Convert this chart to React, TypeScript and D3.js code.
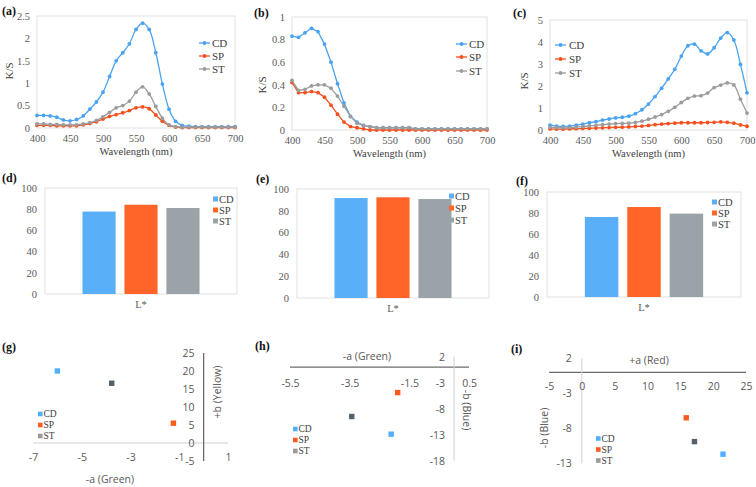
import React, { useRef, useEffect } from 'react';
import * as d3 from 'd3';

const seriesNames = ['CD', 'SP', 'ST'];
const lineColors: Record<string, string> = { CD: '#4aa3f2', SP: '#f4511e', ST: '#9c9c9c' };
const barColors: Record<string, string> = { CD: '#5ab0f8', SP: '#ff6529', ST: '#99a3a8' };
const dotColors: Record<string, string> = { CD: '#4fb0ff', SP: '#ff5a1f', ST: '#56606a' };
const dotLegendColors: Record<string, string> = { CD: '#4fb0ff', SP: '#ff5a1f', ST: '#9a9a9a' };

const wavelengths = [400, 410, 420, 430, 440, 450, 460, 470, 480, 490, 500, 510, 520, 530, 540, 550,
  560, 570, 580, 590, 600, 610, 620, 630, 640, 650, 660, 670, 680, 690, 700];
const wavelengthTicks = [400, 450, 500, 550, 600, 650, 700];

// (a) K/S
const ksA_CD = [0.28, 0.28, 0.27, 0.24, 0.18, 0.16, 0.19, 0.27, 0.42, 0.58, 0.8, 1.15, 1.5, 1.68, 1.88, 2.2,
  2.34, 2.2, 1.68, 0.98, 0.42, 0.15, 0.06, 0.04, 0.03, 0.03, 0.03, 0.03, 0.03, 0.03, 0.03];
const ksA_SP = [0.06, 0.06, 0.06, 0.05, 0.05, 0.05, 0.05, 0.07, 0.1, 0.14, 0.2, 0.26, 0.3, 0.34, 0.39, 0.45,
  0.47, 0.43, 0.29, 0.15, 0.06, 0.02, 0.01, 0.01, 0.01, 0.01, 0.01, 0.01, 0.01, 0.01, 0.01];
const ksA_ST = [0.09, 0.09, 0.08, 0.08, 0.07, 0.07, 0.07, 0.09, 0.12, 0.17, 0.25, 0.35, 0.45, 0.5, 0.6, 0.8,
  0.92, 0.76, 0.48, 0.22, 0.07, 0.03, 0.02, 0.02, 0.02, 0.02, 0.02, 0.02, 0.02, 0.02, 0.02];
const ticksA = [0, 0.5, 1, 1.5, 2, 2.5];

// (b) K/S
const ksB_CD = [0.83, 0.82, 0.86, 0.9, 0.87, 0.76, 0.6, 0.41, 0.24, 0.12, 0.07, 0.04, 0.03, 0.02, 0.02, 0.02,
  0.02, 0.02, 0.02, 0.01, 0.01, 0.01, 0.01, 0.01, 0.01, 0.01, 0.01, 0.01, 0.01, 0.01, 0.01];
const ksB_SP = [0.42, 0.33, 0.33, 0.34, 0.33, 0.29, 0.22, 0.14, 0.07, 0.03, 0.02, 0.01, 0, 0, 0, 0,
  0, 0, 0, 0, 0, 0, 0, 0, 0, 0, 0, 0, 0, 0, 0];
const ksB_ST = [0.44, 0.35, 0.36, 0.39, 0.4, 0.4, 0.37, 0.3, 0.21, 0.12, 0.06, 0.04, 0.03, 0.02, 0.02, 0.02,
  0.02, 0.02, 0.02, 0.01, 0.01, 0.01, 0.01, 0.01, 0.01, 0.01, 0.01, 0.01, 0.01, 0.01, 0.01];
const ticksB = [0, 0.2, 0.4, 0.6, 0.8, 1];

// (c) K/S
const ksC_CD = [0.22, 0.18, 0.16, 0.18, 0.22, 0.27, 0.33, 0.38, 0.45, 0.5, 0.55, 0.58, 0.63, 0.74, 0.92, 1.18,
  1.52, 1.9, 2.32, 2.76, 3.36, 3.83, 3.9, 3.6, 3.46, 3.74, 4.18, 4.43, 4.09, 2.98, 1.69];
const ksC_SP = [0.05, 0.04, 0.04, 0.05, 0.06, 0.07, 0.08, 0.09, 0.1, 0.11, 0.12, 0.13, 0.14, 0.16, 0.18, 0.21,
  0.24, 0.27, 0.29, 0.31, 0.33, 0.33, 0.33, 0.33, 0.34, 0.35, 0.37, 0.35, 0.31, 0.23, 0.17];
const ksC_ST = [0.12, 0.11, 0.1, 0.11, 0.13, 0.16, 0.19, 0.21, 0.24, 0.27, 0.29, 0.3, 0.31, 0.34, 0.4, 0.49,
  0.59, 0.7, 0.85, 1.03, 1.25, 1.44, 1.54, 1.56, 1.68, 1.93, 2.04, 2.14, 2.05, 1.4, 0.77];
const ticksC = [0, 1, 2, 3, 4, 5];

// (d)(e)(f) L* values, order CD, SP, ST
const lightD = [77.8, 84.2, 81.1];
const lightE = [91.7, 92.4, 90.8];
const lightF = [76.2, 85.7, 79.4];
const barTicks = [0, 20, 40, 60, 80, 100];

// (g)(h)(i) a*, b*, order CD, SP, ST
const abG_a = [-6.0, -1.24, -3.77];
const abG_b = [20.0, 5.5, 16.6];
const ticksG_x = [-7, -5, -3, -1, 1];
const ticksG_y = [-5, 0, 5, 10, 15, 20, 25];

const abH_a = [-2.11, -1.89, -3.43];
const abH_b = [-12.9, -4.9, -9.5];
const ticksH_x = [-5.5, -3.5, -1.5, 0.5];
const ticksH_y = [-18, -13, -8, -3, 2];

const abI_a = [21.5, 15.9, 17.15];
const abI_b = [-11.7, -6.5, -9.9];
const ticksI_x = [-5, 0, 5, 10, 15, 20, 25];
const ticksI_y = [-13, -8, -3, 2];

const SERIF = '"Liberation Serif", "Times New Roman", serif';
const SANS = '"Open Sans", "Noto Sans", sans-serif';

type Sel = d3.Selection<SVGSVGElement, unknown, null, undefined>;

const panelLabel = (svg: Sel, text: string, x: number, y: number) => {
  svg.append('text').attr('x', x).attr('y', y).text(text)
    .attr('font-family', SERIF).attr('font-size', 12).attr('font-weight', 'bold').attr('fill', '#111');
};

const styleAxis = (g: d3.Selection<SVGGElement, unknown, null, undefined>, font: string, size: number) => {
  g.select('.domain').remove();
  g.selectAll('text').attr('font-family', font).attr('font-size', size).attr('fill', '#595959');
};

interface SpectrumOpts {
  left: number; right: number; top: number; bottom: number;
  yTicks: number[];
  data: number[][];
  smooth: boolean;
  legendLine: number; legendText: number; legendY: number[];
  label: string; labelX: number; labelY: number;
  ksX: number; ksY: number;
}

const drawSpectrum = (svg: Sel, o: SpectrumOpts) => {
  const x = d3.scaleLinear().domain([400, 700]).range([o.left, o.right]);
  const y = d3.scaleLinear().domain([0, o.yTicks[o.yTicks.length - 1]]).range([o.bottom, o.top]);

  svg.append('rect').attr('x', o.left).attr('y', o.top).attr('width', o.right - o.left)
    .attr('height', o.bottom - o.top).attr('fill', 'none').attr('stroke', '#d9d9d9').attr('stroke-width', 0.8);

  const gx = svg.append('g').attr('transform', `translate(0,${o.bottom})`)
    .call(d3.axisBottom(x).tickValues(wavelengthTicks).tickSize(0).tickPadding(7).tickFormat((d) => String(d)));
  styleAxis(gx, SERIF, 10.5);
  const gy = svg.append('g').attr('transform', `translate(${o.left},0)`)
    .call(d3.axisLeft(y).tickValues(o.yTicks).tickSize(0).tickPadding(7).tickFormat((d) => String(d)));
  styleAxis(gy, SERIF, 10.5);

  svg.append('text').attr('x', (o.left + o.right) / 2).attr('y', o.bottom + 27).attr('text-anchor', 'middle')
    .text('Wavelength  (nm)').attr('font-family', SERIF).attr('font-size', 10.5).attr('fill', '#404040');
  svg.append('text').attr('transform', `translate(${o.ksX},${o.ksY}) rotate(-90)`).attr('text-anchor', 'middle')
    .attr('dy', '0.35em').text('K/S').attr('font-family', SERIF).attr('font-size', 11).attr('fill', '#404040');

  const line = d3.line<number>().x((_, i) => x(wavelengths[i])).y((d) => y(d))
    .curve(o.smooth ? d3.curveCatmullRom.alpha(0.5) : d3.curveLinear);

  seriesNames.forEach((name, si) => {
    const vals = o.data[si];
    svg.append('path').attr('d', line(vals) || '').attr('fill', 'none')
      .attr('stroke', lineColors[name]).attr('stroke-width', 1.3);
    svg.append('g').selectAll('circle').data(vals).enter().append('circle')
      .attr('cx', (_, i) => x(wavelengths[i])).attr('cy', (d) => y(d)).attr('r', 1.9)
      .attr('fill', lineColors[name]);

    const ly = o.legendY[si];
    svg.append('line').attr('x1', o.legendLine).attr('x2', o.legendLine + 11).attr('y1', ly).attr('y2', ly)
      .attr('stroke', lineColors[name]).attr('stroke-width', 1.3);
    svg.append('circle').attr('cx', o.legendLine + 5.5).attr('cy', ly).attr('r', 1.9).attr('fill', lineColors[name]);
    svg.append('text').attr('x', o.legendText).attr('y', ly).attr('dy', '0.35em').text(name)
      .attr('font-family', SERIF).attr('font-size', 11).attr('fill', '#404040');
  });

  panelLabel(svg, o.label, o.labelX, o.labelY);
};

interface BarOpts {
  left: number; right: number; top: number; bottom: number;
  values: number[];
  legendX: number; legendY: number[];
  label: string; labelX: number; labelY: number;
}

const drawBars = (svg: Sel, o: BarOpts) => {
  const x0 = d3.scaleBand<string>().domain(['L*']).range([o.left, o.right]).paddingInner(0).paddingOuter(0.32);
  const x1 = d3.scaleBand<string>().domain(seriesNames).range([0, x0.bandwidth()]).paddingInner(0.21);
  const y = d3.scaleLinear().domain([0, 100]).range([o.bottom, o.top]);

  svg.append('rect').attr('x', o.left).attr('y', o.top).attr('width', o.right - o.left)
    .attr('height', o.bottom - o.top).attr('fill', 'none').attr('stroke', '#d9d9d9').attr('stroke-width', 0.8);

  const gy = svg.append('g').attr('transform', `translate(${o.left},0)`)
    .call(d3.axisLeft(y).tickValues(barTicks).tickSize(0).tickPadding(8).tickFormat((d) => String(d)));
  styleAxis(gy, SERIF, 10.5);
  const gx = svg.append('g').attr('transform', `translate(0,${o.bottom})`)
    .call(d3.axisBottom(x0).tickSize(0).tickPadding(7));
  styleAxis(gx, SERIF, 10.5);

  const base = x0('L*') || 0;
  svg.append('g').selectAll('rect').data(o.values).enter().append('rect')
    .attr('x', (_, i) => base + (x1(seriesNames[i]) || 0))
    .attr('y', (d) => y(d)).attr('width', x1.bandwidth()).attr('height', (d) => o.bottom - y(d))
    .attr('fill', (_, i) => barColors[seriesNames[i]]);

  seriesNames.forEach((name, si) => {
    const ly = o.legendY[si];
    svg.append('rect').attr('x', o.legendX).attr('y', ly - 2.5).attr('width', 5).attr('height', 5)
      .attr('fill', barColors[name]);
    svg.append('text').attr('x', o.legendX + 6).attr('y', ly).attr('dy', '0.35em').text(name)
      .attr('font-family', SERIF).attr('font-size', 10.5).attr('fill', '#404040');
  });

  panelLabel(svg, o.label, o.labelX, o.labelY);
};

interface ScatterOpts {
  xDomain: [number, number]; xRange: [number, number];
  yDomain: [number, number]; yRange: [number, number];
  xTicks: number[]; yTicks: number[];
  a: number[]; b: number[];
  xLabelsY: number; yLabelPad: number;
  hAxisDark: boolean;
  xTitle: string; xTitleX: number; xTitleY: number;
  yTitle: string; yTitleX: number; yTitleY: number; yTitleRot: number;
  legendX: number; legendY: number[];
  label: string; labelX: number; labelY: number;
}

const drawScatter = (svg: Sel, o: ScatterOpts) => {
  const x = d3.scaleLinear().domain(o.xDomain).range(o.xRange);
  const y = d3.scaleLinear().domain(o.yDomain).range(o.yRange);
  const dark = '#6b6b6b';
  const light = '#d0d0d0';

  svg.append('line').attr('x1', x(o.xDomain[0])).attr('x2', x(o.xDomain[1])).attr('y1', y(0)).attr('y2', y(0))
    .attr('stroke', o.hAxisDark ? dark : light).attr('stroke-width', o.hAxisDark ? 1.3 : 1);
  svg.append('line').attr('x1', x(0)).attr('x2', x(0)).attr('y1', y(o.yDomain[0])).attr('y2', y(o.yDomain[1]))
    .attr('stroke', o.hAxisDark ? light : dark).attr('stroke-width', o.hAxisDark ? 1 : 1.3);

  const gx = svg.append('g').attr('transform', `translate(0,${o.xLabelsY})`)
    .call(d3.axisBottom(x).tickValues(o.xTicks).tickSize(0).tickPadding(0).tickFormat((d) => String(d)));
  styleAxis(gx, SANS, 10.5);
  gx.selectAll('text').attr('dy', '0.35em');
  const gy = svg.append('g').attr('transform', `translate(${x(0)},0)`)
    .call(d3.axisLeft(y).tickValues(o.yTicks).tickSize(0).tickPadding(o.yLabelPad).tickFormat((d) => String(d)));
  styleAxis(gy, SANS, 10.5);

  svg.append('text').attr('x', o.xTitleX).attr('y', o.xTitleY).attr('dy', '0.35em').attr('text-anchor', 'middle')
    .text(o.xTitle).attr('font-family', SANS).attr('font-size', 10.5).attr('fill', '#595959');
  svg.append('text').attr('transform', `translate(${o.yTitleX},${o.yTitleY}) rotate(${o.yTitleRot})`)
    .attr('dy', '0.35em').attr('text-anchor', 'middle')
    .text(o.yTitle).attr('font-family', SANS).attr('font-size', 10.5).attr('fill', '#595959');

  svg.append('g').selectAll('rect').data(o.a).enter().append('rect')
    .attr('x', (d) => x(d) - 2.7).attr('y', (_, i) => y(o.b[i]) - 2.7).attr('width', 5.4).attr('height', 5.4)
    .attr('fill', (_, i) => dotColors[seriesNames[i]]);

  seriesNames.forEach((name, si) => {
    const ly = o.legendY[si];
    svg.append('rect').attr('x', o.legendX).attr('y', ly - 2.3).attr('width', 4.6).attr('height', 4.6)
      .attr('fill', dotLegendColors[name]);
    svg.append('text').attr('x', o.legendX + 5.5).attr('y', ly).attr('dy', '0.35em').text(name)
      .attr('font-family', SERIF).attr('font-size', 9.5).attr('fill', '#404040');
  });

  panelLabel(svg, o.label, o.labelX, o.labelY);
};

const App: React.FC = () => {
  const svgRef = useRef<SVGSVGElement | null>(null);

  useEffect(() => {
    if (!svgRef.current) return;
    document.body.style.margin = '0';
    const svg = d3.select<SVGSVGElement, unknown>(svgRef.current);
    svg.selectAll('*').remove();

    drawSpectrum(svg, {
      left: 37, right: 235, top: 16, bottom: 128, yTicks: ticksA, data: [ksA_CD, ksA_SP, ksA_ST], smooth: true,
      legendLine: 199, legendText: 212, legendY: [43, 56, 69], label: '(a)', labelX: 2, labelY: 15, ksX: 9, ksY: 71,
    });
    drawSpectrum(svg, {
      left: 292, right: 487, top: 17, bottom: 130, yTicks: ticksB, data: [ksB_CD, ksB_SP, ksB_ST], smooth: false,
      legendLine: 456, legendText: 469, legendY: [44, 57, 71], label: '(b)', labelX: 254, labelY: 17, ksX: 262, ksY: 85,
    });
    drawSpectrum(svg, {
      left: 550, right: 747, top: 20, bottom: 130, yTicks: ticksC, data: [ksC_CD, ksC_SP, ksC_ST], smooth: true,
      legendLine: 555, legendText: 569, legendY: [45, 59, 73], label: '(c)', labelX: 513, labelY: 17, ksX: 524, ksY: 81,
    });

    drawBars(svg, {
      left: 45, right: 237, top: 188, bottom: 294, values: lightD,
      legendX: 213, legendY: [199, 210, 221], label: '(d)', labelX: 2, labelY: 182,
    });
    drawBars(svg, {
      left: 297, right: 489, top: 189, bottom: 298, values: lightE,
      legendX: 449, legendY: [196, 208, 220], label: '(e)', labelX: 256, labelY: 183,
    });
    drawBars(svg, {
      left: 547, right: 741, top: 192, bottom: 297, values: lightF,
      legendX: 712, legendY: [202, 213, 224], label: '(f)', labelX: 516, labelY: 185,
    });

    drawScatter(svg, {
      xDomain: [-7, 1], xRange: [33, 228], yDomain: [-5, 25], yRange: [461, 353],
      xTicks: ticksG_x, yTicks: ticksG_y, a: abG_a, b: abG_b, xLabelsY: 457, yLabelPad: 9, hAxisDark: false,
      xTitle: '-a (Green)', xTitleX: 110, xTitleY: 479,
      yTitle: '+b (Yellow)', yTitleX: 217, yTitleY: 392, yTitleRot: -90,
      legendX: 38, legendY: [414, 425, 436], label: '(g)', labelX: 2, labelY: 351,
    });
    drawScatter(svg, {
      xDomain: [-5.5, 0.5], xRange: [290, 469], yDomain: [-18, 2], yRange: [460.7, 356.7],
      xTicks: ticksH_x, yTicks: ticksH_y, a: abH_a, b: abH_b, xLabelsY: 383, yLabelPad: 9, hAxisDark: true,
      xTitle: '-a (Green)', xTitleX: 367, xTitleY: 356,
      yTitle: '-b (Blue)', yTitleX: 467, yTitleY: 410, yTitleRot: 90,
      legendX: 293, legendY: [429, 440, 451], label: '(h)', labelX: 255, labelY: 350,
    });
    drawScatter(svg, {
      xDomain: [-5, 25], xRange: [549, 746], yDomain: [-13, 2], yRange: [463.3, 358.3],
      xTicks: ticksI_x, yTicks: ticksI_y, a: abI_a, b: abI_b, xLabelsY: 386.7, yLabelPad: 10, hAxisDark: true,
      xTitle: '+a (Red)', xTitleX: 649, xTitleY: 360.7,
      yTitle: '-b (Blue)', yTitleX: 544, yTitleY: 428, yTitleRot: -90,
      legendX: 596, legendY: [438.5, 449.5, 460.5], label: '(i)', labelX: 511, labelY: 353,
    });
  }, []);

  return <svg ref={svgRef} width={756} height={487} style={{ display: 'block', background: '#fff' }} />;
};

export default App;
